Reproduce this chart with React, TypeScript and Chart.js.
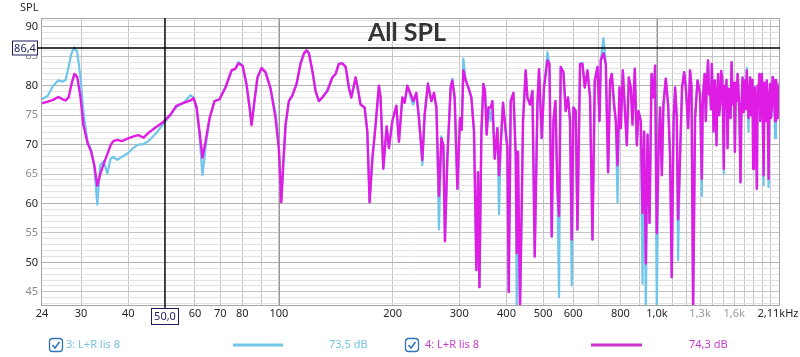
import React, { useEffect, useRef } from 'react';
import { Chart, registerables } from 'chart.js';

Chart.register(...registerables);

// ---- Data: frequency (Hz) and SPL (dB) for the two traces, split in bands ----
// trace 3 = "3: L+R lis 8" (light blue), trace 4 = "4: L+R lis 8" (magenta)
const freq1 = [23.6, 24.5, 25.3, 26.1, 26.8, 27.3, 27.8, 28.3, 28.8, 29.3, 29.9, 30.4, 31.2, 31.9, 32.5, 33.1, 33.7, 34.4, 35.2, 35.9, 36.5, 37.4, 38.4, 39.8, 41.3, 42.5, 43.9, 45.2, 47.2, 49.2];
const spl4_1 = [77.0, 77.3, 77.6, 78.1, 77.7, 77.5, 78.0, 80.3, 82.0, 81.5, 78.0, 73.4, 70.3, 68.8, 66.5, 63.0, 65.0, 66.7, 68.4, 69.9, 70.6, 70.8, 70.6, 71.0, 71.4, 71.6, 71.2, 72.0, 72.9, 73.7];
const spl3_1 = [77.7, 78.3, 80.0, 80.9, 80.7, 81.0, 83.2, 85.5, 86.5, 85.7, 81.4, 75.7, 70.5, 69.1, 66.5, 59.8, 66.5, 67.2, 65.1, 67.6, 67.9, 67.4, 67.9, 68.5, 69.5, 70.0, 70.1, 70.6, 71.8, 73.3];

const freq2 = [51.7, 53.6, 56.0, 58.4, 59.5, 60.6, 61.7, 62.8, 64.0, 65.6, 67.6, 69.7, 72.3, 75.0, 76.8, 78.2, 80.2, 82.1, 83.7, 84.7, 86.2, 87.8, 90.0, 92.2, 95.1, 98.0];
const spl4_2 = [75.1, 76.6, 77.1, 77.5, 77.9, 76.3, 72.2, 67.8, 70.5, 74.5, 77.4, 77.7, 79.7, 82.6, 82.9, 83.8, 83.4, 80.3, 76.3, 73.3, 77.4, 81.4, 83.0, 82.3, 79.5, 74.5];
const spl3_2 = [75.0, 76.4, 77.1, 78.4, 78.0, 76.5, 71.5, 64.8, 69.5, 74.5, 77.4, 77.7, 79.9, 82.6, 82.9, 84.0, 83.4, 80.3, 76.3, 73.5, 77.4, 81.4, 83.0, 82.3, 79.5, 75.4];

const freq3 = [100, 101.5, 102.7, 104.2, 106.3, 108.5, 111.4, 114.1, 116.5, 118.4, 120.1, 122.6, 125.1, 127.6, 130.3, 134.3, 138.5, 141.3, 144.1, 147.2, 150.2, 153.2, 155.5, 159.6, 161.9, 164.5];
const spl4_3 = [69.4, 60.2, 66.5, 73.4, 77.4, 78.3, 80.3, 83.7, 85.5, 86.0, 85.5, 82.6, 79.1, 77.4, 78.0, 79.1, 81.4, 82.0, 83.7, 83.8, 83.2, 79.7, 78.0, 81.4, 79.4, 76.8];
const spl3_3 = [69.8, 60.4, 66.5, 73.4, 77.4, 78.3, 80.3, 83.7, 85.5, 86.0, 85.5, 82.6, 79.1, 77.4, 78.0, 79.1, 81.4, 82.0, 83.7, 83.8, 83.2, 79.7, 78.0, 81.4, 79.4, 76.8];

const freq4 = [168.6, 171.4, 173.8, 176.7, 180.3, 183.9, 185.8, 188.9, 192.8, 195.5, 199.6, 204.5, 207.8, 212.1, 215.1, 218.7, 223.1, 226.8, 231.0, 234.7, 239.6, 243.0, 247.9, 253.1, 257.2, 261.0, 265.1, 269.0, 272.3, 275.0, 279.0];
const spl4_4 = [76.3, 72.2, 60.2, 67.6, 73.4, 80.0, 78.0, 65.9, 73.1, 69.4, 74.0, 76.6, 70.5, 78.0, 77.1, 80.0, 78.6, 77.4, 78.8, 74.5, 67.4, 75.1, 80.3, 77.4, 78.8, 76.3, 61.3, 71.1, 69.9, 53.6, 67.6];
const spl3_4 = [76.3, 72.2, 60.2, 67.6, 73.4, 80.0, 78.0, 65.9, 73.1, 69.4, 74.0, 76.6, 70.5, 78.0, 77.1, 80.0, 78.0, 76.8, 78.6, 74.5, 66.5, 75.1, 80.5, 77.4, 78.5, 76.3, 55.6, 71.4, 69.9, 53.6, 67.6];

const freq5 = [284.7, 287.6, 291.7, 296.6, 301.3, 304.5, 307.6, 312.0, 318.3, 323.0, 328.2, 333.0, 336.3, 339.2, 343.3, 347.5, 350.9, 354.5, 358.2, 363.3, 367.1, 372.3, 378.4, 382.2, 386.1, 391.6, 398.1, 402.2, 405.4];
const spl4_5 = [79.7, 80.9, 78.0, 62.5, 74.5, 72.5, 82.6, 80.9, 79.4, 78.0, 72.2, 48.7, 65.3, 45.8, 72.2, 80.3, 79.1, 71.7, 76.3, 76.3, 77.4, 67.6, 72.8, 64.8, 69.9, 77.1, 72.2, 69.4, 45.0];
const spl3_5 = [79.7, 81.2, 78.0, 62.5, 74.5, 72.5, 84.6, 80.9, 79.4, 78.0, 72.2, 48.7, 65.3, 45.8, 72.2, 80.3, 79.1, 71.7, 76.3, 74.0, 77.4, 67.6, 72.8, 58.2, 69.9, 77.1, 72.2, 69.4, 45.0];

const freq6 = [410.4, 417.2, 423.1, 425.7, 429.0, 434.3, 438.0, 442.3, 449.6, 454.3, 461.6, 468.4, 475.0, 482.9, 487.6, 495.7, 502.7, 513.2, 519.5, 526.8, 532.3, 538.8, 545.4, 550.8, 556.5, 565.7, 573.7, 581.8, 589.0, 595.1];
const spl4_6 = [77.4, 78.8, 68.2, 51.6, 68.8, 42.5, 56.2, 74.0, 82.6, 78.0, 76.8, 79.1, 51.0, 77.0, 82.8, 71.1, 79.7, 84.3, 83.7, 54.4, 74.0, 77.4, 62.5, 57.9, 83.2, 82.3, 75.7, 78.0, 74.0, 53.9];
const spl3_6 = [77.4, 78.8, 68.2, 42.3, 68.8, 42.5, 56.2, 74.0, 82.6, 78.0, 76.8, 79.1, 51.0, 77.0, 82.8, 71.1, 79.7, 85.7, 83.7, 54.4, 74.0, 77.4, 62.5, 44.1, 83.2, 82.3, 75.7, 78.0, 74.0, 46.1];

const freq7 = [601.3, 609.8, 616.1, 626.0, 635.2, 644.2, 654.9, 665.3, 675.1, 684.7, 696.1, 704.6, 710.2, 722.0, 732.2, 742.6, 751.7, 759.5, 770.2, 778.3, 786.4, 796.0, 802.3, 812.2, 821.2, 832.2, 842.4, 852.6, 861.5, 873.6, 884.4, 893.6];
const spl4_7 = [76.3, 75.7, 55.6, 83.7, 83.7, 79.7, 82.6, 78.0, 53.9, 80.9, 83.2, 74.0, 84.3, 85.5, 83.7, 65.3, 80.9, 82.0, 76.8, 74.0, 66.5, 79.7, 72.8, 82.6, 76.8, 69.9, 81.4, 79.7, 73.4, 82.9, 69.9, 75.7];
const spl3_7 = [76.3, 75.7, 55.6, 83.7, 83.9, 79.7, 82.6, 78.0, 53.9, 80.9, 83.2, 74.0, 84.3, 88.1, 83.7, 65.3, 80.9, 82.0, 76.8, 74.0, 60.2, 79.7, 72.8, 82.6, 76.8, 69.9, 81.4, 79.7, 73.4, 82.9, 69.9, 75.7];

const freq8 = [906.2, 915.7, 924.6, 934.3, 944.0, 955.6, 967.3, 979.1, 988.5, 998.8, 1009, 1019, 1030, 1040, 1055, 1070, 1083, 1094, 1106, 1117, 1128, 1137, 1151, 1165, 1180, 1194, 1209, 1223, 1234, 1246, 1261, 1280, 1300];
const spl4_8 = [74.0, 58.4, 72.2, 49.8, 71.7, 56.7, 82.0, 78.0, 83.4, 55.0, 68.2, 76.3, 64.8, 76.8, 81.2, 76.8, 68.2, 47.5, 74.0, 79.7, 74.5, 57.3, 68.2, 79.7, 82.3, 79.1, 72.8, 82.6, 79.7, 42.0, 74.5, 80.9, 78.6];
const spl3_8 = [74.0, 46.4, 72.2, 42.0, 71.7, 56.7, 82.0, 78.0, 83.4, 42.0, 68.2, 76.3, 64.8, 76.8, 81.2, 76.8, 68.2, 47.5, 74.0, 79.7, 74.5, 50.4, 68.2, 79.7, 82.3, 79.1, 72.8, 82.6, 79.7, 42.0, 74.5, 80.9, 78.6];

const freq9 = [1314, 1321, 1328, 1337, 1346, 1355, 1365, 1373, 1382, 1389, 1396, 1404, 1411, 1416, 1422, 1430, 1437, 1444, 1451, 1460, 1469, 1478, 1487, 1495, 1502, 1510, 1518, 1527, 1537, 1546, 1556, 1565, 1575, 1582, 1590, 1598, 1607];
const spl4_9 = [64.2, 76.5, 79.7, 82.0, 74.0, 80.5, 84.3, 78.5, 79.7, 76.0, 83.7, 79.0, 72.2, 78.0, 80.9, 76.5, 69.9, 78.5, 82.0, 75.0, 76.8, 82.5, 81.4, 75.5, 65.9, 80.0, 76.3, 81.0, 69.4, 79.5, 78.6, 74.5, 84.0, 79.0, 76.8, 80.5, 68.8];
const spl3_9 = [61.3, 76.5, 79.7, 82.0, 74.0, 80.5, 84.3, 78.5, 79.7, 76.0, 83.7, 79.0, 72.2, 78.0, 80.9, 76.5, 69.9, 78.5, 82.0, 75.0, 76.8, 82.5, 81.4, 75.5, 65.0, 80.0, 76.3, 81.0, 69.4, 79.5, 78.6, 74.5, 84.0, 79.0, 76.8, 80.5, 68.8];

const freq10 = [1617, 1626, 1634, 1643, 1652, 1663, 1673, 1684, 1695, 1707, 1717, 1728, 1737, 1746, 1755, 1764, 1773, 1782, 1789, 1796, 1805, 1815, 1826, 1837, 1846, 1856, 1865, 1875, 1884, 1894, 1904, 1914, 1923, 1932, 1942, 1952, 1962, 1973, 1982, 1992, 2002, 2013, 2023, 2034, 2044, 2054, 2064, 2075, 2086, 2097, 2107, 2118];
const spl4_10 = [80.5, 77.4, 82.0, 79.1, 75.0, 63.6, 77.0, 81.4, 75.5, 80.9, 76.0, 82.6, 78.0, 74.5, 79.0, 81.4, 75.0, 77.4, 81.0, 65.9, 76.0, 79.7, 75.5, 62.5, 80.0, 78.6, 82.0, 74.0, 78.5, 82.0, 75.5, 64.8, 80.5, 76.8, 74.0, 80.9, 77.0, 64.2, 77.5, 80.3, 74.5, 76.3, 81.5, 80.9, 76.5, 74.0, 81.0, 79.7, 74.5, 76.8, 80.0, 80.9];
const spl3_10 = [80.5, 77.4, 82.0, 79.1, 75.0, 63.6, 77.0, 81.4, 75.5, 80.9, 76.0, 83.0, 78.0, 72.2, 79.0, 81.4, 75.0, 77.4, 81.0, 65.9, 76.0, 79.7, 75.5, 62.5, 80.0, 78.6, 82.0, 74.0, 78.5, 82.0, 75.5, 63.1, 80.5, 76.8, 74.0, 80.9, 77.0, 62.8, 77.5, 80.3, 74.5, 76.3, 81.5, 80.9, 76.5, 71.1, 81.0, 79.7, 74.5, 76.8, 80.0, 80.9];

// ---- Axis / annotation values ----
const X_MIN = 23.5;
const X_MAX = 2115;
const Y_MIN = 42.6;
const Y_MAX = 91.5;
const xLabelValues = [X_MIN, 30, 40, 50, 60, 70, 80, 100, 200, 300, 400, 500, 600, 800, 1000, 1300, 1600, X_MAX];
const xLabelTexts = ['24', '30', '40', '50,0', '60', '70', '80', '100', '200', '300', '400', '500', '600', '800', '1,0k', '1,3k', '1,6k', '2,11kHz'];
const xLabelMuted = ['1,3k', '1,6k'];
const yLabelValues = [45, 50, 55, 60, 65, 70, 75, 80, 85, 90];
const xGridValues = [30, 40, 50, 60, 70, 80, 90, 100, 200, 300, 400, 500, 600, 700, 800, 900, 1000, 1100, 1200, 1300, 1400, 1500, 1600, 1700, 1800, 1900, 2000];
const xGridMajor = [100, 1000];
const cursorFreq = 50.0;
const cursorSpl = 86.4;
const cursorFreqText = '50,0';
const cursorSplText = '86,4';
const titleText = 'All SPL';
const yAxisTitle = 'SPL';
const legendNames = ['3: L+R lis 8', '4: L+R lis 8'];
const legendLevels = ['73,5 dB', '74,3 dB'];

const BLUE = '#6fc6ea';
const MAGENTA = '#de1ce4';
const BLUE_TEXT = '#76c3e2';
const MAGENTA_TEXT = '#c43ccc';
const FONT = '"Noto Sans", "DejaVu Sans", sans-serif';

const freqAll = [...freq1, ...freq2, ...freq3, ...freq4, ...freq5, ...freq6, ...freq7, ...freq8, ...freq9, ...freq10];
const spl3All = [...spl3_1, ...spl3_2, ...spl3_3, ...spl3_4, ...spl3_5, ...spl3_6, ...spl3_7, ...spl3_8, ...spl3_9, ...spl3_10];
const spl4All = [...spl4_1, ...spl4_2, ...spl4_3, ...spl4_4, ...spl4_5, ...spl4_6, ...spl4_7, ...spl4_8, ...spl4_9, ...spl4_10];

function drawCheckbox(ctx: CanvasRenderingContext2D, x: number, y: number) {
  const s = 13;
  const r = 3;
  ctx.save();
  ctx.strokeStyle = '#2f74b8';
  ctx.lineWidth = 1.3;
  ctx.beginPath();
  ctx.moveTo(x + r, y);
  ctx.lineTo(x + s - r, y);
  ctx.quadraticCurveTo(x + s, y, x + s, y + r);
  ctx.lineTo(x + s, y + s - r);
  ctx.quadraticCurveTo(x + s, y + s, x + s - r, y + s);
  ctx.lineTo(x + r, y + s);
  ctx.quadraticCurveTo(x, y + s, x, y + s - r);
  ctx.lineTo(x, y + r);
  ctx.quadraticCurveTo(x, y, x + r, y);
  ctx.stroke();
  ctx.lineWidth = 1.6;
  ctx.beginPath();
  ctx.moveTo(x + 3, y + 6.5);
  ctx.lineTo(x + 5.5, y + 9.5);
  ctx.lineTo(x + 10, y + 3.5);
  ctx.stroke();
  ctx.restore();
}

const overlayPlugin = {
  id: 'rewOverlay',
  beforeDraw(chart: any) {
    const ctx = chart.ctx;
    ctx.save();
    ctx.fillStyle = '#ffffff';
    ctx.fillRect(0, 0, chart.width, chart.height);
    ctx.restore();
  },
  beforeDatasetsDraw(chart: any) {
    const ctx = chart.ctx as CanvasRenderingContext2D;
    const { top, bottom } = chart.chartArea;
    const xs = chart.scales.x;
    ctx.save();
    ctx.strokeStyle = '#969696';
    ctx.lineWidth = 1;
    ctx.beginPath();
    xGridMajor.forEach((v) => {
      const px = Math.round(xs.getPixelForValue(v)) + 0.5;
      ctx.moveTo(px, top);
      ctx.lineTo(px, bottom);
    });
    ctx.stroke();
    ctx.restore();
  },
  afterDatasetsDraw(chart: any) {
    const ctx = chart.ctx as CanvasRenderingContext2D;
    const { left, right, top, bottom } = chart.chartArea;
    const xs = chart.scales.x;
    const ys = chart.scales.y;
    ctx.save();
    ctx.strokeStyle = '#a6a6a6';
    ctx.lineWidth = 1;
    ctx.strokeRect(left + 0.5, top + 0.5, right - left - 1, bottom - top - 1);
    ctx.strokeStyle = '#000000';
    ctx.lineWidth = 1.4;
    const cy = ys.getPixelForValue(cursorSpl);
    const cx = xs.getPixelForValue(cursorFreq);
    ctx.beginPath();
    ctx.moveTo(left - 3, cy);
    ctx.lineTo(right, cy);
    ctx.moveTo(cx, top);
    ctx.lineTo(cx, bottom + 3);
    ctx.stroke();
    ctx.restore();
  },
  afterDraw(chart: any) {
    const ctx = chart.ctx as CanvasRenderingContext2D;
    const { left } = chart.chartArea;
    const xs = chart.scales.x;
    const ys = chart.scales.y;
    ctx.save();
    ctx.font = `11px ${FONT}`;
    ctx.textBaseline = 'middle';

    ctx.textAlign = 'right';
    yLabelValues.forEach((v) => {
      ctx.fillStyle = v % 10 === 0 ? '#262626' : '#8a8a8a';
      ctx.fillText(String(v), left - 3, ys.getPixelForValue(v));
    });
    ctx.textAlign = 'left';
    ctx.fillStyle = '#262626';
    ctx.fillText(yAxisTitle, 20, 8);

    ctx.textAlign = 'center';
    xLabelValues.forEach((v, i) => {
      const t = xLabelTexts[i];
      if (t === cursorFreqText) return;
      ctx.fillStyle = xLabelMuted.includes(t) ? '#9a9a9a' : '#262626';
      let px = xs.getPixelForValue(v);
      if (i === 0) px += 1;
      if (i === xLabelValues.length - 1) px -= 2;
      ctx.fillText(t, px, 314);
    });

    const cy = ys.getPixelForValue(cursorSpl);
    const cx = xs.getPixelForValue(cursorFreq);
    ctx.fillStyle = '#ffffff';
    ctx.strokeStyle = '#1d1d5e';
    ctx.lineWidth = 1;
    ctx.fillRect(12, Math.round(cy) - 7.5, 26, 15);
    ctx.strokeRect(12.5, Math.round(cy) - 7, 25, 14);
    ctx.fillRect(Math.round(cx) - 14, 308, 28, 17);
    ctx.strokeRect(Math.round(cx) - 13.5, 308.5, 27, 16);
    ctx.fillStyle = '#1d1d5e';
    ctx.textAlign = 'center';
    ctx.fillText(cursorSplText, 25, Math.round(cy) + 0.5);
    ctx.fillText(cursorFreqText, Math.round(cx), 316.5);

    ctx.font = `bold 25px Lato, ${FONT}`;
    ctx.fillStyle = '#343434';
    ctx.textAlign = 'center';
    ctx.fillText(titleText, 407, 33);

    const ly = 345;
    ctx.font = `11px ${FONT}`;
    ctx.textAlign = 'left';
    drawCheckbox(ctx, 49.5, ly - 6.5);
    ctx.fillStyle = BLUE_TEXT;
    ctx.fillText(legendNames[0], 66, ly);
    ctx.fillText(legendLevels[0], 329, ly);
    ctx.strokeStyle = BLUE;
    ctx.lineWidth = 3;
    ctx.beginPath();
    ctx.moveTo(233, ly);
    ctx.lineTo(283, ly);
    ctx.stroke();

    drawCheckbox(ctx, 405.5, ly - 6.5);
    ctx.fillStyle = MAGENTA_TEXT;
    ctx.fillText(legendNames[1], 425, ly);
    ctx.fillText(legendLevels[1], 689, ly);
    ctx.strokeStyle = '#cc33cc';
    ctx.lineWidth = 3;
    ctx.beginPath();
    ctx.moveTo(591, ly);
    ctx.lineTo(642, ly);
    ctx.stroke();

    ctx.restore();
  },
};

export default function App() {
  const canvasRef = useRef<HTMLCanvasElement | null>(null);

  useEffect(() => {
    const canvas = canvasRef.current;
    if (!canvas) return;
    const trace3 = freqAll.map((f, i) => ({ x: f, y: spl3All[i] }));
    const trace4 = freqAll.map((f, i) => ({ x: f, y: spl4All[i] }));

    const chart = new Chart(canvas, {
      type: 'line',
      data: {
        datasets: [
          {
            label: legendNames[1],
            data: trace4,
            borderColor: MAGENTA,
            borderWidth: 2.4,
            borderJoinStyle: 'round',
            pointRadius: 0,
            tension: 0,
            fill: false,
            order: 0,
          },
          {
            label: legendNames[0],
            data: trace3,
            borderColor: BLUE,
            borderWidth: 2.2,
            borderJoinStyle: 'round',
            pointRadius: 0,
            tension: 0,
            fill: false,
            order: 1,
          },
        ],
      },
      options: {
        responsive: false,
        animation: false,
        devicePixelRatio: 1,
        events: [],
        layout: { padding: { left: 0, right: 20, top: 18, bottom: 0 } },
        plugins: {
          legend: { display: false },
          tooltip: { enabled: false },
          title: { display: false },
        },
        scales: {
          x: {
            type: 'logarithmic',
            min: X_MIN,
            max: X_MAX,
            afterBuildTicks: (scale: any) => {
              scale.ticks = xGridValues.map((v) => ({ value: v }));
            },
            afterFit: (scale: any) => {
              scale.height = 51;
            },
            ticks: { display: false },
            border: { display: false },
            grid: {
              drawTicks: false,
              lineWidth: 1,
              color: '#c6c6c6',
            },
          },
          y: {
            type: 'linear',
            min: Y_MIN,
            max: Y_MAX,
            afterBuildTicks: (scale: any) => {
              const t: { value: number }[] = [];
              for (let v = 43; v <= 91; v++) t.push({ value: v });
              scale.ticks = t;
            },
            afterFit: (scale: any) => {
              scale.width = 41;
            },
            ticks: { display: false },
            border: { display: false },
            grid: {
              drawTicks: false,
              lineWidth: 1,
              color: (c: any) => {
                const v = c.tick ? c.tick.value : 0;
                if (v % 10 === 0) return '#b2b2b2';
                if (v % 5 === 0) return '#c4c4c4';
                return '#e3e3e3';
              },
            },
          },
        },
      },
      plugins: [overlayPlugin],
    } as any);

    return () => {
      chart.destroy();
    };
  }, []);

  return (
    <div style={{ position: 'absolute', left: 0, top: 0, width: 800, height: 357, background: '#ffffff' }}>
      <canvas ref={canvasRef} width={800} height={357} style={{ display: 'block', width: 800, height: 357 }} />
    </div>
  );
}
